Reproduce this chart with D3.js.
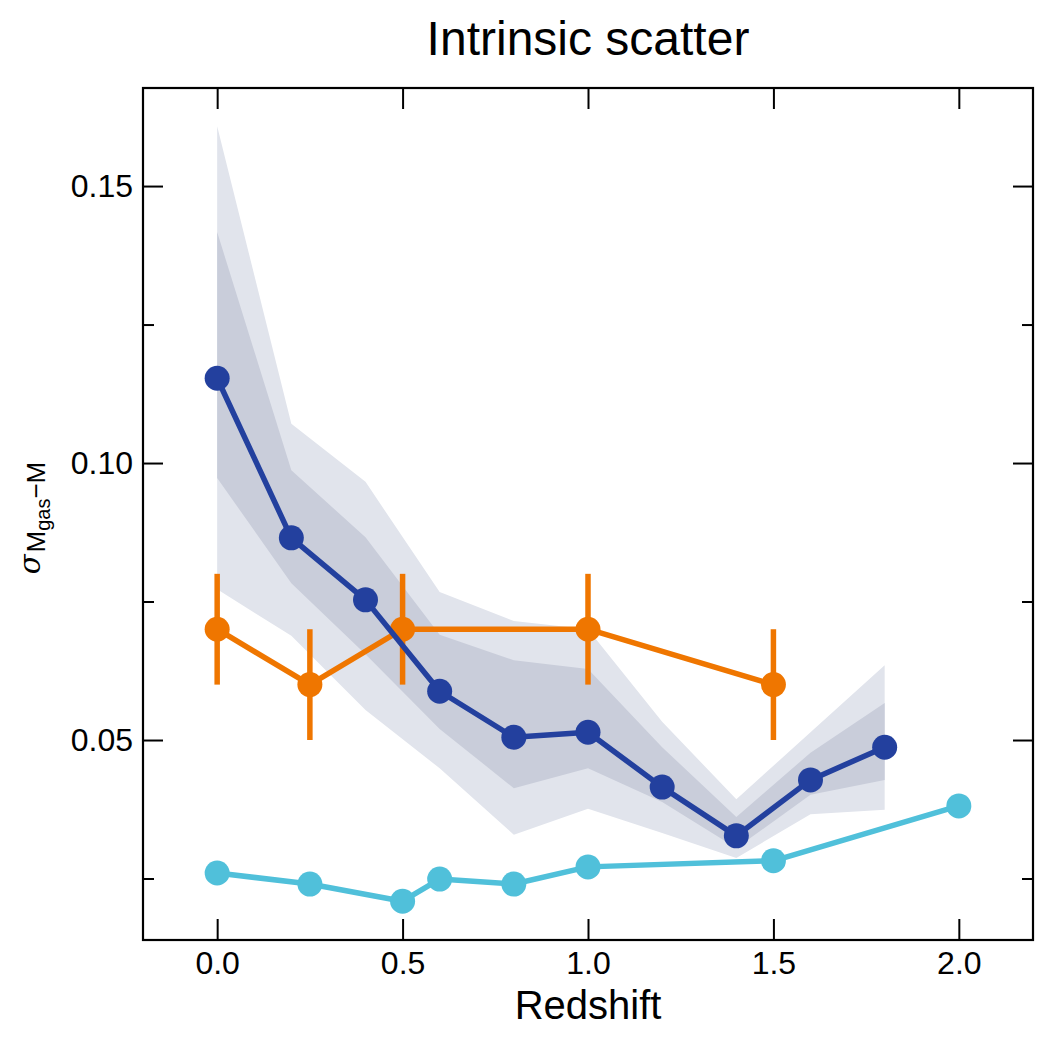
<!DOCTYPE html>
<html>
<head>
<meta charset="utf-8">
<script src="https://cdn.jsdelivr.net/npm/d3@7"></script>
<style>
    body { margin: 0; background: #fff; }
    text { font-family: "Liberation Sans", Arial, sans-serif; fill: #000; }
</style>
</head>
<body>
<div id="chart"></div>
<script>

// blue: simulation scatter with 1 and 2 sigma bands
const blueZ = [0.0, 0.2, 0.4, 0.6, 0.8, 1.0, 1.2, 1.4, 1.6, 1.8];
const blueVal = [0.1153, 0.0865, 0.0753, 0.0588, 0.0505, 0.0514, 0.0415, 0.0327, 0.0428, 0.0487];
const band1Lo = [0.0973, 0.0783, 0.0655, 0.0520, 0.0413, 0.0449, 0.0388, 0.0305, 0.0401, 0.0428];
const band1Hi = [0.1417, 0.0987, 0.0866, 0.0690, 0.0644, 0.0628, 0.0487, 0.0361, 0.0477, 0.0567];
const band2Lo = [0.0772, 0.0688, 0.0554, 0.0449, 0.0329, 0.0376, 0.0332, 0.0287, 0.0366, 0.0374];
const band2Hi = [0.1608, 0.1071, 0.0966, 0.0767, 0.0715, 0.0700, 0.0533, 0.0393, 0.0514, 0.0635];

// orange: with error bars
const orangeZ = [0.0, 0.25, 0.5, 1.0, 1.5];
const orangeVal = [0.07, 0.06, 0.07, 0.07, 0.06];
const orangeErr = [0.01, 0.01, 0.01, 0.01, 0.01];

// cyan
const cyanZ = [0.0, 0.25, 0.5, 0.6, 0.8, 1.0, 1.5, 2.0];
const cyanVal = [0.0260, 0.0240, 0.0209, 0.0249, 0.0240, 0.0271, 0.0282, 0.0381];

const xTicks = [0.0, 0.5, 1.0, 1.5, 2.0];
const yTicks = [0.05, 0.10, 0.15];
const yMinorTicks = [0.025, 0.075, 0.125];

const W = 1050, H = 1050;
const margin = {top: 88, right: 17, bottom: 110, left: 143};
const width = W - margin.left - margin.right;
const height = H - margin.top - margin.bottom;

const svg = d3.select("#chart").append("svg")
    .attr("width", W)
    .attr("height", H);

const g = svg.append("g")
    .attr("transform", `translate(${margin.left},${margin.top})`);

const x = d3.scaleLinear().domain([-0.2, 2.2]).range([0, width]);
const y = d3.scaleLinear().domain([0.0139, 0.1677]).range([height, 0]);

// bands
const area = (lo, hi) => d3.area()
    .x((d, i) => x(blueZ[i]))
    .y0((d, i) => y(lo[i]))
    .y1((d, i) => y(hi[i]));

g.append("path")
    .attr("d", area(band2Lo, band2Hi)(blueZ))
    .attr("fill", "#e1e4ec");
g.append("path")
    .attr("d", area(band1Lo, band1Hi)(blueZ))
    .attr("fill", "#c9cdda");

const line = d3.line().x(d => x(d[0])).y(d => y(d[1]));

function series(zs, vals, color) {
    const pts = zs.map((z, i) => [z, vals[i]]);
    g.append("path")
        .attr("d", line(pts))
        .attr("fill", "none")
        .attr("stroke", color)
        .attr("stroke-width", 5.5)
        .attr("stroke-linejoin", "round");
    g.selectAll(null)
        .data(pts)
        .enter().append("circle")
        .attr("cx", d => x(d[0]))
        .attr("cy", d => y(d[1]))
        .attr("r", 12.5)
        .attr("fill", color);
}

// orange error bars
g.selectAll(null)
    .data(orangeZ)
    .enter().append("line")
    .attr("x1", d => x(d))
    .attr("x2", d => x(d))
    .attr("y1", (d, i) => y(orangeVal[i] - orangeErr[i]))
    .attr("y2", (d, i) => y(orangeVal[i] + orangeErr[i]))
    .attr("stroke", "#ef7600")
    .attr("stroke-width", 5.5);

series(orangeZ, orangeVal, "#ef7600");
series(cyanZ, cyanVal, "#50c0da");
series(blueZ, blueVal, "#23409e");

// axes (ticks inward on all four sides)
const fmt = d3.format(".2f");
const fmtX = d3.format(".1f");

g.append("g")
    .attr("class", "axis")
    .attr("transform", `translate(0,${height})`)
    .call(d3.axisBottom(x).tickValues(xTicks).tickSizeInner(-21).tickSizeOuter(0).tickPadding(11).tickFormat(fmtX));
g.append("g")
    .attr("class", "axis")
    .call(d3.axisTop(x).tickValues(xTicks).tickSizeInner(-21).tickSizeOuter(0).tickFormat(""));
g.append("g")
    .attr("class", "axis")
    .call(d3.axisLeft(y).tickValues(yTicks).tickSizeInner(-20).tickSizeOuter(0).tickPadding(10).tickFormat(fmt));
g.append("g")
    .attr("class", "axis")
    .call(d3.axisLeft(y).tickValues(yMinorTicks).tickSizeInner(-11).tickSizeOuter(0).tickFormat(""));
g.append("g")
    .attr("class", "axis")
    .attr("transform", `translate(${width},0)`)
    .call(d3.axisRight(y).tickValues(yTicks).tickSizeInner(-20).tickSizeOuter(0).tickFormat(""));
g.append("g")
    .attr("class", "axis")
    .attr("transform", `translate(${width},0)`)
    .call(d3.axisRight(y).tickValues(yMinorTicks).tickSizeInner(-11).tickSizeOuter(0).tickFormat(""));

g.selectAll(".axis .domain").remove();
g.selectAll(".axis line").attr("stroke", "#000").attr("stroke-width", 2);
g.selectAll(".axis text")
    .style("font-size", "32px")
    .style("font-family", '"Liberation Sans", Arial, sans-serif')
    .attr("fill", "#000");

// frame
g.append("rect")
    .attr("width", width)
    .attr("height", height)
    .attr("fill", "none")
    .attr("stroke", "#000")
    .attr("stroke-width", 2.2);

// title and labels
svg.append("text")
    .attr("x", margin.left + width / 2)
    .attr("y", 55)
    .attr("text-anchor", "middle")
    .style("font-size", "48px")
    .text("Intrinsic scatter");

svg.append("text")
    .attr("x", margin.left + width / 2)
    .attr("y", 1019)
    .attr("text-anchor", "middle")
    .style("font-size", "40px")
    .text("Redshift");

const ylab = svg.append("text")
    .attr("transform", "translate(40,518) rotate(-90)")
    .attr("text-anchor", "middle")
    .style("font-size", "29px");
ylab.append("tspan")
    .style("font-family", '"DejaVu Serif", serif')
    .style("font-style", "italic")
    .text("σ");
ylab.append("tspan")
    .style("font-size", "26px")
    .attr("dx", 2)
    .attr("dy", 5)
    .text("M");
ylab.append("tspan")
    .style("font-size", "20px")
    .attr("dy", 5)
    .text("gas");
ylab.append("tspan")
    .style("font-size", "26px")
    .attr("dy", -5)
    .text("−M");

</script>
</body>
</html>
